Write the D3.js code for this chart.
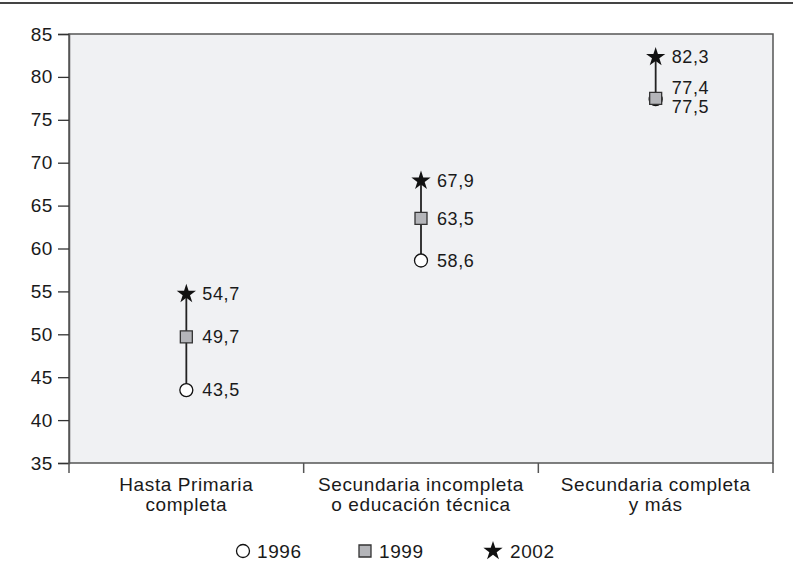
<!DOCTYPE html>
<html><head><meta charset="utf-8">
<script src="https://cdn.jsdelivr.net/npm/d3@7"></script>
<style>
html,body{margin:0;padding:0;background:#fff;}
text{font-family:"Liberation Sans",Arial,sans-serif;fill:#1a1a1a;}
</style></head>
<body>
<svg id="c" width="793" height="577"></svg>
<script>
const categories = [["Hasta Primaria","completa"],["Secundaria incompleta","o educación técnica"],["Secundaria completa","y más"]];
const years = ["1996","1999","2002"];
const v1996 = [43.5, 58.6, 77.4];
const v1999 = [49.7, 63.5, 77.5];
const v2002 = [54.7, 67.9, 82.3];
const yTicks = [35,40,45,50,55,60,65,70,75,80,85];

const svg = d3.select("#c");
const L=69, R=773, T=34, B=463;
const x = d3.scaleBand().domain(d3.range(categories.length)).range([L,R]);
const y = d3.scaleLinear().domain([35,85]).range([B,T]);
const fmt = v => d3.format(".1f")(v).replace(".", ",");
const FS = "19px", LS = "0.6px";

// top rule
svg.append("line").attr("x1",0).attr("x2",793).attr("y1",3).attr("y2",3).attr("stroke","#444").attr("stroke-width",2);

// plot bg
svg.append("rect").attr("x",L).attr("y",T).attr("width",R-L).attr("height",B-T)
  .attr("fill","#f0f1f3").attr("stroke","#555").attr("stroke-width",1.5);

// y axis
const yAxis = svg.append("g").attr("transform",`translate(${L},0)`)
  .call(d3.axisLeft(y).tickValues(yTicks).tickSize(11).tickPadding(5));
yAxis.select(".domain").attr("stroke","#555").attr("stroke-width",1.5);
yAxis.selectAll(".tick line").attr("stroke","#333").attr("stroke-width",1.3);
yAxis.selectAll(".tick text").style("font-size",FS).style("letter-spacing",LS)
  .attr("fill","#1a1a1a").style("font-family","'Liberation Sans',Arial,sans-serif");

// x axis: boundary ticks
const bounds = d3.range(categories.length+1).map(i => i < categories.length ? x(i) : x(categories.length-1)+x.bandwidth());
svg.selectAll(".xt").data(bounds).join("line").attr("class","xt")
  .attr("x1",d=>d).attr("x2",d=>d).attr("y1",B).attr("y2",B+10)
  .attr("stroke","#555").attr("stroke-width",1.5);

// category labels
categories.forEach((lines,i)=>{
  const cx = x(i)+x.bandwidth()/2;
  const t = svg.append("text").attr("text-anchor","middle").style("font-size",FS).style("letter-spacing",LS);
  lines.forEach((ln,k)=> t.append("tspan").attr("x",cx).attr("y",491+k*20).text(ln));
});

// series
const series = [
  {name:years[0], vals:v1996, type:"circle"},
  {name:years[1], vals:v1999, type:"square"},
  {name:years[2], vals:v2002, type:"star"}
];
function drawMarker(g, type, cx, cy){
  if(type==="circle"){
    g.append("circle").attr("cx",cx).attr("cy",cy).attr("r",6.5).attr("fill","#fff").attr("stroke","#111").attr("stroke-width",1.3);
  } else if(type==="square"){
    g.append("path").attr("d",d3.symbol(d3.symbolSquare,144)()).attr("transform",`translate(${cx},${cy})`)
      .attr("fill","#b4b5b9").attr("stroke","#333").attr("stroke-width",1.3);
  } else {
    g.append("path").attr("d",d3.symbol(d3.symbolStar,115)()).attr("transform",`translate(${cx},${cy})`)
      .attr("fill","#111");
  }
}

categories.forEach((c,i)=>{
  const cx = x(i)+x.bandwidth()/2;
  const vals = series.map(s=>s.vals[i]);
  svg.append("line").attr("x1",cx).attr("x2",cx).attr("y1",y(d3.min(vals))).attr("y2",y(d3.max(vals)))
    .attr("stroke","#222").attr("stroke-width",1.8);
  const g = svg.append("g");
  series.forEach(s=> drawMarker(g, s.type, cx, y(s.vals[i])));
  // labels in series order; separate overlapping neighbours (earlier series goes up)
  const labs = series.map(s=>({v:s.vals[i], ly:y(s.vals[i])}));
  for(let k=1;k<labs.length;k++){
    const gap = Math.abs(labs[k-1].ly - labs[k].ly);
    if(gap < 18){
      const mid = (labs[k-1].ly + labs[k].ly)/2;
      labs[k-1].ly = mid - 11; labs[k].ly = mid + 8;
    }
  }
  labs.forEach(l=>{
    svg.append("text").attr("x",cx+16).attr("y",l.ly).attr("dy","0.35em")
      .style("font-size","18px").style("letter-spacing","0.6px").text(fmt(l.v));
  });
});

// legend
const legX = [243,365,493];
const lg = svg.append("g");
series.forEach((s,k)=>{
  drawMarker(lg, s.type, legX[k], 551);
  lg.append("text").attr("x",legX[k]+(k===2?17:14)).attr("y",551).attr("dy","0.35em")
    .style("font-size",FS).style("letter-spacing",LS).text(s.name);
});
</script>
</body></html>
